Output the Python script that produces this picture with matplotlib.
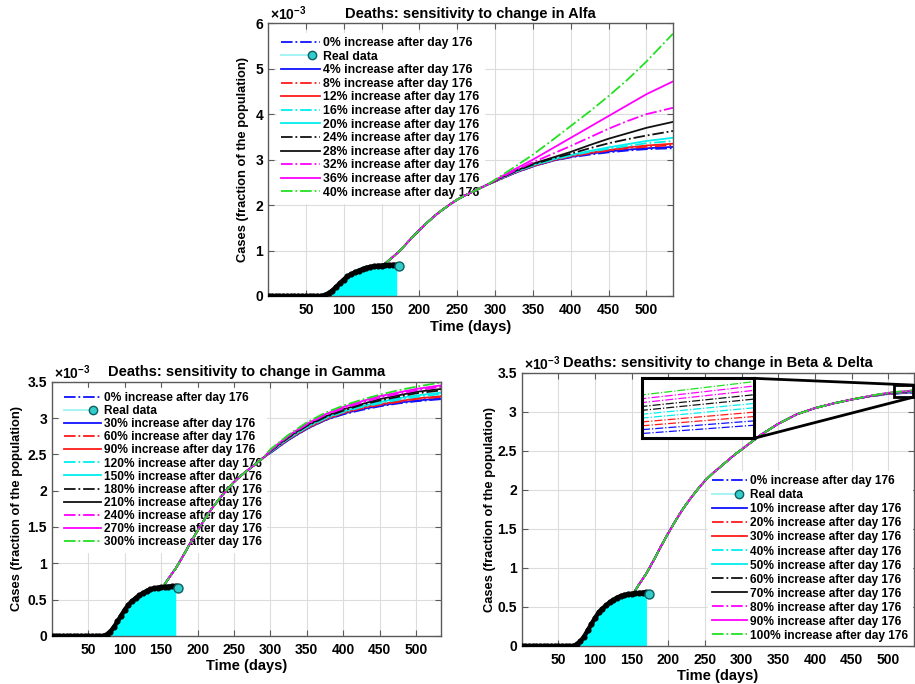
import matplotlib
matplotlib.use("Agg")
import matplotlib.pyplot as plt
from matplotlib.lines import Line2D
from matplotlib.legend_handler import HandlerBase
from matplotlib.patches import Rectangle, ConnectionPatch

plt.rcParams["font.family"] = ["Liberation Sans", "DejaVu Sans"]
plt.rcParams["font.weight"] = "bold"
plt.rcParams["mathtext.fontset"] = "custom"
plt.rcParams["mathtext.rm"] = "Liberation Sans"
plt.rcParams["mathtext.bf"] = "Liberation Sans:bold"

# ---------------- data (values in units of 1e-3 of the population) ----------------
real_days = [1, 5, 10, 15, 20, 25, 30, 35, 40, 45, 50, 55, 60, 65, 70, 75, 80, 85,
             90, 95, 100, 105, 110, 115, 120, 125, 130, 135, 140, 145, 150, 155,
             160, 165, 170]
real_vals = [0, 0, 0, 0, 0, 0, 0, 0, 0, 0, 0, 0, 0, 0, 0.0, 0.02, 0.06, 0.12,
             0.20, 0.28, 0.36, 0.43, 0.48, 0.52, 0.56, 0.59, 0.62, 0.64, 0.655, 0.665,
             0.67, 0.675, 0.68, 0.685, 0.69]
real_last_day = 173
real_last_val = 0.66

# model projection, common part before the curves separate
early_days = [152, 160, 170, 180, 190, 200, 210, 220, 230, 240, 250, 260, 270, 280, 290]
early_vals = [0.67, 0.79, 0.93, 1.10, 1.28, 1.45, 1.61, 1.76, 1.89, 2.01, 2.12,
              2.21, 2.29, 2.37, 2.45]
late_days = [300, 325, 350, 375, 400, 425, 450, 475, 500, 535]

alfa_pcts = [0, 4, 8, 12, 16, 20, 24, 28, 32, 36, 40]
alfa_late = [
    [2.52, 2.70, 2.85, 2.97, 3.05, 3.11, 3.16, 3.20, 3.23, 3.25],
    [2.52, 2.70, 2.85, 2.97, 3.06, 3.13, 3.18, 3.22, 3.25, 3.28],
    [2.52, 2.71, 2.86, 2.98, 3.07, 3.14, 3.20, 3.25, 3.28, 3.32],
    [2.52, 2.71, 2.86, 2.98, 3.08, 3.15, 3.21, 3.27, 3.31, 3.35],
    [2.53, 2.72, 2.87, 2.99, 3.09, 3.17, 3.24, 3.30, 3.36, 3.41],
    [2.53, 2.72, 2.88, 3.00, 3.10, 3.19, 3.27, 3.34, 3.41, 3.48],
    [2.53, 2.73, 2.89, 3.02, 3.13, 3.25, 3.36, 3.45, 3.53, 3.63],
    [2.54, 2.74, 2.91, 3.04, 3.17, 3.32, 3.46, 3.58, 3.70, 3.83],
    [2.54, 2.75, 2.94, 3.12, 3.30, 3.49, 3.68, 3.85, 4.00, 4.14],
    [2.55, 2.78, 3.00, 3.24, 3.48, 3.72, 3.96, 4.20, 4.44, 4.72],
    [2.56, 2.83, 3.11, 3.42, 3.74, 4.06, 4.40, 4.76, 5.16, 5.77],
]

gamma_pcts = [0, 30, 60, 90, 120, 150, 180, 210, 240, 270, 300]
gamma_late = [
    [2.52, 2.70, 2.85, 2.97, 3.05, 3.11, 3.16, 3.20, 3.23, 3.26],
    [2.52, 2.70, 2.85, 2.97, 3.06, 3.12, 3.17, 3.21, 3.24, 3.27],
    [2.53, 2.71, 2.86, 2.98, 3.07, 3.13, 3.18, 3.22, 3.26, 3.29],
    [2.53, 2.71, 2.86, 2.98, 3.07, 3.14, 3.19, 3.23, 3.27, 3.30],
    [2.53, 2.72, 2.87, 2.99, 3.08, 3.15, 3.20, 3.25, 3.29, 3.33],
    [2.54, 2.72, 2.88, 3.00, 3.09, 3.16, 3.22, 3.27, 3.31, 3.35],
    [2.54, 2.73, 2.89, 3.01, 3.10, 3.18, 3.24, 3.29, 3.34, 3.38],
    [2.55, 2.74, 2.90, 3.02, 3.12, 3.19, 3.26, 3.31, 3.36, 3.40],
    [2.55, 2.75, 2.91, 3.04, 3.13, 3.21, 3.28, 3.33, 3.38, 3.43],
    [2.56, 2.76, 2.92, 3.05, 3.15, 3.23, 3.30, 3.35, 3.40, 3.45],
    [2.57, 2.77, 2.94, 3.07, 3.17, 3.25, 3.32, 3.38, 3.43, 3.49],
]

beta_pcts = [0, 10, 20, 30, 40, 50, 60, 70, 80, 90, 100]
beta_late = [
    [2.52, 2.70, 2.85, 2.97, 3.05, 3.11, 3.16, 3.2000, 3.2300, 3.250],
    [2.52, 2.70, 2.85, 2.97, 3.05, 3.11, 3.16, 3.2008, 3.2318, 3.253],
    [2.52, 2.70, 2.85, 2.97, 3.05, 3.11, 3.16, 3.2016, 3.2336, 3.256],
    [2.52, 2.70, 2.85, 2.97, 3.05, 3.11, 3.16, 3.2024, 3.2354, 3.259],
    [2.52, 2.70, 2.85, 2.97, 3.05, 3.11, 3.16, 3.2032, 3.2372, 3.262],
    [2.52, 2.70, 2.85, 2.97, 3.05, 3.11, 3.16, 3.2040, 3.2390, 3.265],
    [2.52, 2.70, 2.85, 2.97, 3.05, 3.11, 3.16, 3.2048, 3.2408, 3.268],
    [2.52, 2.70, 2.85, 2.97, 3.05, 3.11, 3.16, 3.2056, 3.2426, 3.271],
    [2.52, 2.70, 2.85, 2.97, 3.05, 3.11, 3.16, 3.2064, 3.2444, 3.274],
    [2.52, 2.70, 2.85, 2.97, 3.05, 3.11, 3.16, 3.2072, 3.2462, 3.277],
    [2.52, 2.70, 2.85, 2.97, 3.05, 3.11, 3.16, 3.2080, 3.2480, 3.280],
]

line_colors = ["#1010ff", "#1010ff", "#ff1a1a", "#ff1a1a", "#00eeee", "#00eeee",
               "#111111", "#111111", "#ff00ff", "#ff00ff", "#22e022"]
line_styles = ["-.", "-", "-.", "-", "-.", "-", "-.", "-", "-.", "-", "-."]

GRID = "#dcdcdc"
SPINE = "#5a5a5a"


class RealDataHandler(HandlerBase):
    """Legend key: thin cyan line ending in a cyan dot."""

    def create_artists(self, legend, orig_handle, xdescent, ydescent, width,
                       height, fontsize, trans):
        yc = (height - ydescent) / 2
        x0 = -xdescent
        xm = x0 + 0.78 * width
        line = Line2D([x0, xm], [yc, yc], color="#a6f4f4", lw=1.4)
        dot = Line2D([xm], [yc], ls="none", marker="o", ms=6,
                     mfc="#33cccc", mec="#0d5f5f", mew=1.0)
        line.set_transform(trans)
        dot.set_transform(trans)
        return [line, dot]


def draw_panel(ax, title, pcts, late, ymax, yticks, yticklabels, legend_anchor,
               labelspacing, handlelength, legend_size):
    ax.set_facecolor("white")
    handles = []
    # real data: filled area, thick dotted trace and final marker
    ax.fill_between(real_days, real_vals, 0, color="#00ffff", lw=0, zorder=1)
    ax.plot(real_days, real_vals, color="black", lw=3.2, marker="o", ms=3.4,
            mfc="black", mec="black", solid_capstyle="round", zorder=4)
    ax.plot([real_last_day], [real_last_val], ls="none", marker="o", ms=6.5,
            mfc="#33cccc", mec="#0d5f5f", mew=1.0, zorder=5)

    for i, (p, vals) in enumerate(zip(pcts, late)):
        ln, = ax.plot(early_days + late_days, early_vals + vals,
                      color=line_colors[i], ls=line_styles[i], lw=1.3,
                      zorder=2 + i * 0.01)
        handles.append(ln)

    real_handle = Line2D([], [], color="#a6f4f4")
    leg_handles = [handles[0], real_handle] + handles[1:]
    leg_labels = ([f"{pcts[0]}% increase after day 176", "Real data"] +
                  [f"{p}% increase after day 176" for p in pcts[1:]])
    leg = ax.legend(leg_handles, leg_labels, loc="upper left",
                    bbox_to_anchor=legend_anchor, borderaxespad=0,
                    fontsize=legend_size, labelspacing=labelspacing,
                    handlelength=handlelength, handletextpad=0.25,
                    borderpad=0.35, frameon=True, fancybox=False,
                    framealpha=1.0, edgecolor="white",
                    handler_map={real_handle: RealDataHandler()})
    # the legend box hides the grid but the projected curves run over it
    leg.set_zorder(1.5)
    for t in leg.get_texts():
        t.set_fontweight("bold")

    ax.set_xlim(0, 535)
    ax.set_ylim(0, ymax)
    ax.set_xticks([50, 100, 150, 200, 250, 300, 350, 400, 450, 500])
    ax.set_yticks(yticks)
    ax.set_yticklabels(yticklabels)
    ax.grid(True, color=GRID, lw=0.8, zorder=0)
    ax.set_axisbelow(True)
    ax.tick_params(direction="in", length=4, width=0.8, colors=SPINE,
                   labelcolor="black", labelsize=10, top=True, right=True)
    ax.tick_params(axis="x", pad=5)
    ax.tick_params(axis="y", pad=3.5)
    for lbl in ax.get_xticklabels() + ax.get_yticklabels():
        lbl.set_fontweight("bold")
    for s in ax.spines.values():
        s.set_color(SPINE)
        s.set_linewidth(1.0)
    ax.set_title(title, fontsize=10.5, fontweight="bold", pad=4)
    ax.set_xlabel("Time (days)", fontsize=10.5, fontweight="bold")
    ax.set_ylabel("Cases (fraction of the population)", fontsize=9.3,
                  fontweight="bold")
    ax.text(0.006, 1.0, r"$\times10^{-3}$", transform=ax.transAxes,
            ha="left", va="bottom", fontsize=10)
    return handles


fig = plt.figure(figsize=(9.15, 6.84), dpi=100)

ax1 = fig.add_axes([0.2929, 0.5673, 0.4426, 0.3987])
draw_panel(ax1, "Deaths: sensitivity to change in Alfa", alfa_pcts, alfa_late,
           6, [0, 1, 2, 3, 4, 5, 6], ["0", "1", "2", "3", "4", "5", "6"],
           (0.022, 0.965), 0.13, 3.2, 8.8)
ax1.yaxis.set_label_coords(-0.047, 0.5)
ax1.xaxis.set_label_coords(0.5, -0.088)

half_ticks = [0, 0.5, 1, 1.5, 2, 2.5, 3, 3.5]
half_labels = ["0", "0.5", "1", "1.5", "2", "2.5", "3", "3.5"]

ax2 = fig.add_axes([0.0568, 0.0702, 0.4257, 0.3718])
draw_panel(ax2, "Deaths: sensitivity to change in Gamma", gamma_pcts, gamma_late,
           3.5, half_ticks, half_labels, (0.02, 0.975), 0.09, 3.1, 8.55)
ax2.yaxis.set_label_coords(-0.074, 0.5)
ax2.xaxis.set_label_coords(0.5, -0.09)

ax3 = fig.add_axes([0.5702, 0.0556, 0.4288, 0.3991])
draw_panel(ax3, "Deaths: sensitivity to change in Beta & Delta", beta_pcts, beta_late,
           3.5, half_ticks, half_labels, (0.475, 0.64), 0.17, 2.9, 8.55)
ax3.yaxis.set_label_coords(-0.066, 0.5)
ax3.xaxis.set_label_coords(0.5, -0.084)

# zoomed view of the end of the Beta & Delta curves
zoom_rect = Rectangle((507, 3.19), 27, 0.155, fill=False, ec="black", lw=2.0,
                      zorder=8, clip_on=False)
ax3.add_patch(zoom_rect)

ax_in = fig.add_axes([0.7013, 0.3592, 0.1227, 0.0877])
for i, vals in enumerate(beta_late):
    ax_in.plot(early_days + late_days, early_vals + vals, color=line_colors[i],
               ls="-.", lw=0.9)
ax_in.set_xlim(525, 535)
ax_in.set_ylim(3.241, 3.2823)
ax_in.set_xticks([])
ax_in.set_yticks([])
ax_in.set_facecolor("white")
for s in ax_in.spines.values():
    s.set_color("black")
    s.set_linewidth(2.2)

for ya, yb in [(1.0, 3.345), (0.0, 3.19)]:
    con = ConnectionPatch(xyA=(1.0, ya), coordsA=ax_in.transAxes,
                          xyB=(534, yb), coordsB=ax3.transData,
                          color="black", lw=2.0)
    con.set_zorder(9)
    fig.add_artist(con)

fig.savefig("out.png", dpi=100, facecolor="white")
